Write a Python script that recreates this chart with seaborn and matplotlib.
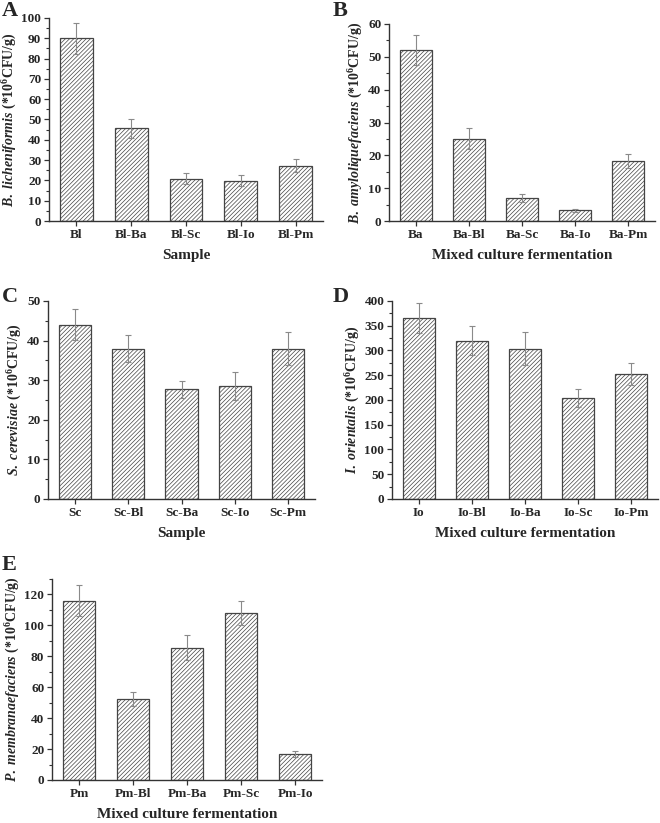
import numpy as np
import pandas as pd
import matplotlib
matplotlib.use("Agg")
import matplotlib.pyplot as plt
from matplotlib.ticker import MultipleLocator
import seaborn as sns

# ---- data ----
cats_a = ["Bl", "Bl-Ba", "Bl-Sc", "Bl-Io", "Bl-Pm"]
vals_a = [90.0, 45.7, 20.8, 19.8, 27.3]
errs_a = [7.5, 4.7, 2.7, 2.8, 3.4]

cats_b = ["Ba", "Ba-Bl", "Ba-Sc", "Ba-Io", "Ba-Pm"]
vals_b = [52.0, 25.0, 7.0, 3.3, 18.2]
errs_b = [4.6, 3.2, 1.2, 0.5, 2.1]

cats_c = ["Sc", "Sc-Bl", "Sc-Ba", "Sc-Io", "Sc-Pm"]
vals_c = [44.0, 38.0, 27.7, 28.5, 38.0]
errs_c = [3.9, 3.4, 2.2, 3.5, 4.2]

cats_d = ["Io", "Io-Bl", "Io-Ba", "Io-Sc", "Io-Pm"]
vals_d = [366.0, 320.0, 304.0, 204.0, 252.0]
errs_d = [30.0, 29.0, 33.0, 18.0, 22.0]

cats_e = ["Pm", "Pm-Bl", "Pm-Ba", "Pm-Sc", "Pm-Io"]
vals_e = [116.0, 52.5, 85.5, 108.0, 16.8]
errs_e = [10.0, 4.5, 8.2, 8.0, 2.0]

sns.set_theme(style="ticks")
plt.rcParams["font.family"] = ["Liberation Serif", "DejaVu Serif"]
plt.rcParams["font.weight"] = "bold"
plt.rcParams["mathtext.fontset"] = "custom"
plt.rcParams["mathtext.it"] = "Liberation Serif:italic:bold"
plt.rcParams["mathtext.rm"] = "Liberation Serif:bold"
plt.rcParams["mathtext.bf"] = "Liberation Serif:bold"
plt.rcParams["hatch.linewidth"] = 0.5
plt.rcParams["hatch.color"] = "#777777"
plt.rcParams["axes.linewidth"] = 1.0

fig = plt.figure(figsize=(6.6, 8.23), dpi=100)
W, H = 660.0, 823.0


def panel(rect_px, cats, vals, errs, ymax, major, minor, ylabel, xlabel, letter, letter_xy):
    left, top, right, bottom = rect_px
    ax = fig.add_axes([left / W, 1 - bottom / H, (right - left) / W, (bottom - top) / H])
    df = pd.DataFrame({"cat": cats, "val": vals})
    sns.barplot(data=df, x="cat", y="val", ax=ax, color="white", saturation=1,
                edgecolor="#444444", linewidth=0.9, width=0.6, hatch="////////")
    ax.errorbar(x=np.arange(len(cats)), y=vals, yerr=errs, fmt="none",
                ecolor="#8a8a8a", elinewidth=0.8, capsize=2.5, capthick=0.8)
    ax.set_ylim(0, ymax)
    ax.set_xlim(-0.5, len(cats) - 0.5)
    ax.yaxis.set_major_locator(MultipleLocator(major))
    ax.yaxis.set_minor_locator(MultipleLocator(minor))
    for s in ["top", "right"]:
        ax.spines[s].set_visible(False)
    for s in ["left", "bottom"]:
        ax.spines[s].set_color("#333333")
    ax.tick_params(axis="both", which="major", direction="out", length=3.5, width=0.9,
                   labelsize=9.5, color="#333333", pad=2)
    ax.tick_params(axis="y", which="minor", direction="out", length=2, width=0.8, color="#333333")
    for lab in ax.get_xticklabels() + ax.get_yticklabels():
        lab.set_fontweight("bold")
    ax.set_ylabel(ylabel, fontsize=10, fontweight="bold", labelpad=2)
    ax.set_xlabel(xlabel, fontsize=11, fontweight="bold", labelpad=6)
    fig.text(letter_xy[0] / W, 1 - letter_xy[1] / H, letter, fontsize=16,
             fontweight="bold", ha="left", va="top")
    return ax


unit = " (*10$^{6}$CFU/g)"
panel((49, 18, 323, 221), cats_a, vals_a, errs_a, 100, 10, 5,
      r"$\mathit{B.\ licheniformis}$" + unit, "Sample", "A", (2, 1))
panel((389, 24, 655, 221), cats_b, vals_b, errs_b, 60, 10, 5,
      r"$\mathit{B.\ amyloliquefaciens}$" + unit, "Mixed culture fermentation", "B", (333, 1))
panel((48, 301, 315, 499), cats_c, vals_c, errs_c, 50, 10, 5,
      r"$\mathit{S.\ cerevisiae}$" + unit, "Sample", "C", (2, 287))
panel((392, 301, 658, 499), cats_d, vals_d, errs_d, 400, 50, 25,
      r"$\mathit{I.\ orientalis}$" + unit, "Mixed culture fermentation", "D", (333, 287))
panel((52, 579, 322, 780), cats_e, vals_e, errs_e, 130, 20, 10,
      r"$\mathit{P.\ membranaefaciens}$" + unit, "Mixed culture fermentation", "E", (2, 555))

fig.savefig("out.png", dpi=100, facecolor="white")
